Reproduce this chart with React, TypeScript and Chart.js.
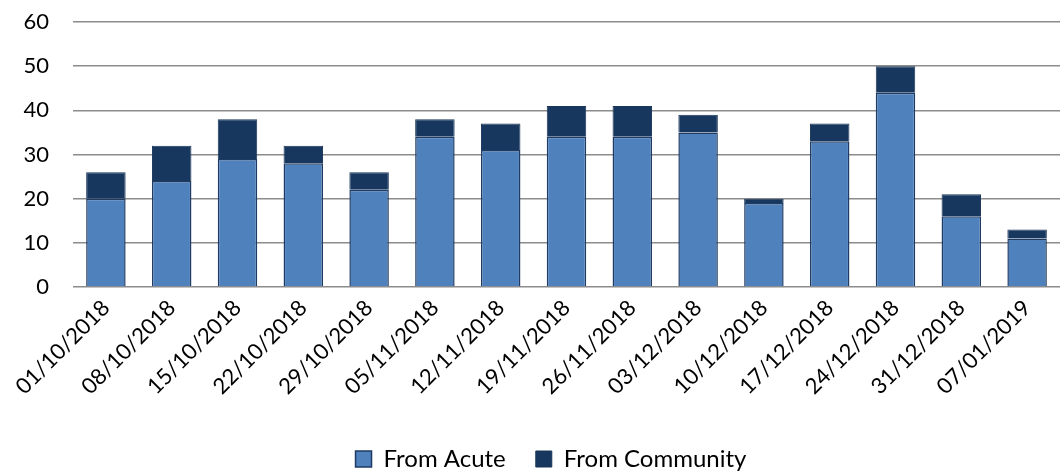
import React, { useEffect, useRef } from "react";
import { Chart, registerables } from "chart.js";

Chart.register(...registerables);

const weeks = [
  "01/10/2018", "08/10/2018", "15/10/2018", "22/10/2018", "29/10/2018",
  "05/11/2018", "12/11/2018", "19/11/2018", "26/11/2018", "03/12/2018",
  "10/12/2018", "17/12/2018", "24/12/2018", "31/12/2018", "07/01/2019",
];
const fromAcute = [20, 24, 29, 28, 22, 34, 31, 34, 34, 35, 19, 33, 44, 16, 11];
const fromCommunity = [6, 8, 9, 4, 4, 4, 6, 7, 7, 4, 1, 4, 6, 5, 2];

const FONT = "Lato, 'Open Sans', sans-serif";

// Moves the bottom legend a little to the right of the canvas centre.
const legendShift = {
  id: "legendShift",
  afterLayout(chart: any) {
    const lg = chart.legend;
    if (lg) {
      lg.left += 21;
      lg.right += 21;
    }
  },
};

export default function App() {
  const ref = useRef<HTMLCanvasElement | null>(null);

  useEffect(() => {
    document.body.style.margin = "0";
    const ctx = ref.current;
    if (!ctx) return;
    const chart = new Chart(ctx, {
      type: "bar",
      data: {
        labels: weeks,
        datasets: [
          {
            label: "From Acute",
            data: fromAcute,
            backgroundColor: "#4F81BD",
            borderColor: "#1F3B63",
            borderWidth: 1.5,
            categoryPercentage: 1,
            barPercentage: 0.6,
          },
          {
            label: "From Community",
            data: fromCommunity,
            backgroundColor: "#17375E",
            borderColor: "#1A3558",
            borderWidth: 1,
            categoryPercentage: 1,
            barPercentage: 0.6,
          },
        ],
      },
      options: {
        responsive: false,
        animation: false,
        layout: { padding: { top: 0, right: 1, left: 0, bottom: -10 } },
        plugins: {
          tooltip: { enabled: false },
          legend: {
            position: "bottom",
            labels: {
              color: "#000",
              font: { family: FONT, size: 24 },
              boxWidth: 16,
              boxHeight: 16,
              padding: 30,
            },
          },
        },
        scales: {
          x: {
            stacked: true,
            grid: { display: false },
            border: { display: false },
            ticks: {
              color: "#000",
              font: { family: FONT, size: 22 },
              minRotation: 45,
              maxRotation: 45,
              padding: 0,
            },
            afterFit: (scale: any) => {
              scale.height = 130;
            },
          },
          y: {
            stacked: true,
            min: 0,
            max: 60,
            ticks: {
              stepSize: 10,
              color: "#000",
              font: { family: FONT, size: 22 },
              padding: 24,
            },
            grid: {
              color: "#8c8c8c",
              lineWidth: 1.5,
              drawTicks: false,
            },
            border: { display: false },
            afterFit: (scale: any) => {
              scale.width = 73;
              scale.paddingTop = 22;
              scale.paddingBottom = 0;
            },
          },
        },
      },
      plugins: [legendShift],
    });
    return () => chart.destroy();
  }, []);

  return (
    <div style={{ width: 1061, height: 471 }}>
      <canvas ref={ref} width={1061} height={471} />
    </div>
  );
}
